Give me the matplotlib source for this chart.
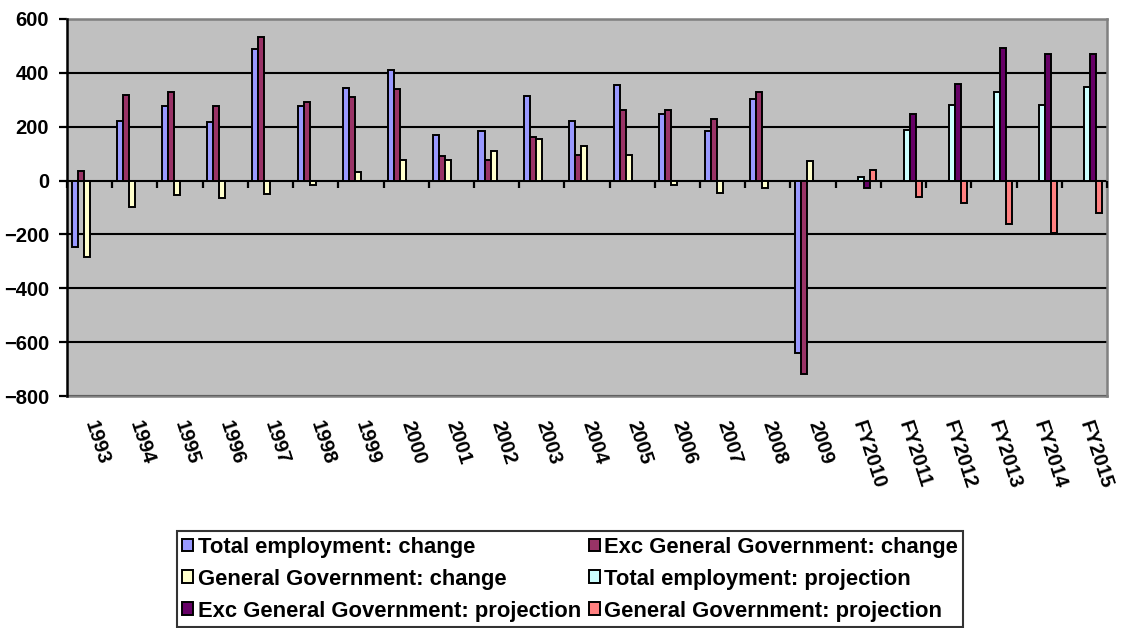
import numpy as np
import matplotlib
matplotlib.use("Agg")
import matplotlib.pyplot as plt
from matplotlib.transforms import blended_transform_factory

plt.rcParams['font.family'] = ['Liberation Sans', 'DejaVu Sans']
plt.rcParams['font.weight'] = 'bold'

# Categories (years, then fiscal-year projections)
years = ['1993', '1994', '1995', '1996', '1997', '1998', '1999', '2000',
         '2001', '2002', '2003', '2004', '2005', '2006', '2007', '2008',
         '2009', 'FY2010', 'FY2011', 'FY2012', 'FY2013', 'FY2014', 'FY2015']

# Historical annual changes (thousands), 1993-2009
total_change = [-248, 222, 277, 216, 489, 277, 344, 412, 171, 185, 313, 222,
                356, 248, 183, 304, -642]
exc_gov_change = [37, 318, 328, 278, 535, 291, 310, 339, 92, 76, 161, 96,
                  262, 262, 230, 329, -719]
gen_gov_change = [-284, -98, -53, -65, -50, -15, 32, 75, 78, 108, 153, 128,
                  94, -15, -46, -26, 72]

# Projections, FY2010-FY2015
total_proj = [14, 188, 279, 329, 279, 349]
exc_gov_proj = [-27, 248, 360, 491, 471, 471]
gen_gov_proj = [38, -61, -82, -163, -193, -120]

series_names = ['Total employment: change', 'Exc General Government: change',
                'General Government: change', 'Total employment: projection',
                'Exc General Government: projection', 'General Government: projection']
series_colors = ['#9999FF', '#993366', '#FFFFCC', '#CCFFFF', '#660066', '#FF8080']

n_hist = len(total_change)
n_cat = len(years)
x = np.arange(n_cat)
hist_idx = x[:n_hist]
proj_idx = x[n_hist:]
series = [(hist_idx, total_change), (hist_idx, exc_gov_change), (hist_idx, gen_gov_change),
          (proj_idx, total_proj), (proj_idx, exc_gov_proj), (proj_idx, gen_gov_proj)]

W, H = 1125, 628
fig = plt.figure(figsize=(W / 100, H / 100), dpi=100)
ax = fig.add_axes([67 / W, 1 - 396 / H, (1107 - 67) / W, (396 - 19) / H])
ax.set_facecolor('#C0C0C0')

ymin, ymax = -800, 600
ax.set_xlim(-0.5, n_cat - 0.5)
ax.set_ylim(ymin, ymax)

# Six clustered series per category with a 150% gap
bar_w = 1 / 7.5
handles = []
for i, ((idx, vals), name, col) in enumerate(zip(series, series_names, series_colors)):
    off = (i - 2.5) * bar_w
    h = ax.bar(idx + off, vals, width=bar_w, color=col, edgecolor='black',
               linewidth=1.4, label=name, zorder=3)
    handles.append(h)

# Horizontal gridlines
ax.set_yticks(np.arange(ymin, ymax + 1, 200))
ax.yaxis.grid(True, color='black', linewidth=1.5)
ax.set_axisbelow(True)

for side in ['top', 'right', 'bottom']:
    ax.spines[side].set_color('#808080')
    ax.spines[side].set_linewidth(1.8)
ax.spines['left'].set_color('black')
ax.spines['left'].set_linewidth(1.8)
ax.spines['left'].set_zorder(4)

ax.tick_params(axis='y', direction='out', length=6, width=1.6, color='black',
               labelsize=14.5, pad=7)
for lbl in ax.get_yticklabels():
    lbl.set_fontweight('bold')

# Category boundary ticks along the zero line
y0 = (0 - ymin) / (ymax - ymin)
trans = blended_transform_factory(ax.transData, ax.transAxes)
bounds = np.arange(n_cat + 1) - 0.5
ax.vlines(bounds, y0 - 0.021, y0, transform=trans, color='black',
          linewidth=1.6, zorder=4, clip_on=False)

# Rotated category labels below the plot area
ax.set_xticks(x)
ax.set_xticklabels(years, fontweight='bold')
ax.tick_params(axis='x', length=0, pad=18, labelsize=14.5)
for lbl in ax.get_xticklabels():
    lbl.set_rotation(-72)
    lbl.set_ha('left')
    lbl.set_va('center')
    lbl.set_rotation_mode('anchor')
    lbl.set_fontweight('bold')

# Legend laid out row by row in two columns
order = [0, 2, 4, 1, 3, 5]
leg = fig.legend([handles[k] for k in order], [series_names[k] for k in order],
                 ncol=2, loc='lower left', bbox_to_anchor=(177 / W, 1 / H),
                 frameon=True, fancybox=False, edgecolor='black',
                 prop={'size': 15.8, 'weight': 'bold'},
                 handlelength=0.5, handleheight=0.5, handletextpad=0.2,
                 columnspacing=0.35, labelspacing=0.5, borderpad=0.25,
                 borderaxespad=0)
leg.get_frame().set_linewidth(1.5)

fig.savefig('out.png', dpi=100, facecolor='white')
